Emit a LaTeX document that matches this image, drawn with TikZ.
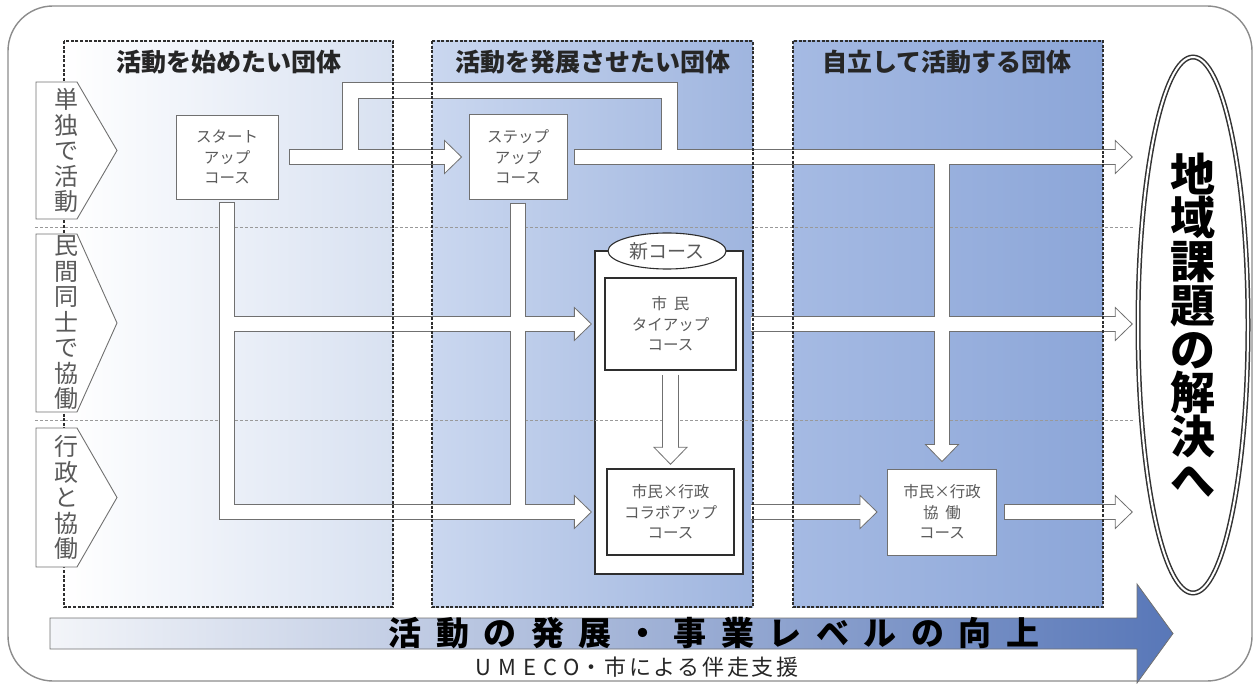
\documentclass[tikz,border=0pt]{standalone}
\usepackage{fontspec}
\setmainfont{Noto Sans CJK JP}
\usetikzlibrary{calc,shapes.geometric}

\definecolor{framegray}{HTML}{8C8C8C}
\definecolor{linegray}{HTML}{707070}
\definecolor{textgray}{HTML}{5A5A5A}
\definecolor{darkline}{HTML}{2E2E2E}
\definecolor{colA}{HTML}{D8E1F1}
\definecolor{colBl}{HTML}{CAD7EF}
\definecolor{colBr}{HTML}{9FB5DF}
\definecolor{colCl}{HTML}{A5BAE3}
\definecolor{colCr}{HTML}{8CA6D8}
\definecolor{barl}{HTML}{F3F5F9}
\definecolor{barr}{HTML}{5877B8}

\tikzset{
  bhead/.pic={
    \filldraw[fill=white,draw=linegray,line width=0.8pt] (-17,-16.5) -- (0,0) -- (-17,16.5) -- cycle;
    \fill[white] (-18.6,-7.3) rectangle (-16.2,7.3);
  }
}

% every white block arrow shaft, drawn once as outline and once as fill
\newcommand{\allshafts}[1]{%
  \draw[#1,tohead] ($(start.east)+(11,0)$) -- (tstep);
  \draw[#1] (loopa) |- (loopb) -- (loopb |- step.east);
  \draw[#1,tohead] ($(step.east)+(7,0)$) -- (tgoala);
  \draw[#1,tohead] ($(start.south)+(0,3)$) |- (tcollab);
  \draw[#1,tohead] (start.south |- tie.west) -- (ttie);
  \draw[#1] ($(step.south)+(0,3)$) -- (step.south |- tcollab);
  \draw[#1,tohead] ($(tie.south)+(0,4)$) -- (tdowna);
  \draw[#1,tohead] ($(newc.east |- tie.east)+(7,0)$) -- (tgoalb);
  \draw[#1,tohead] (kyodo.north |- step.east) -- (tdownb);
  \draw[#1,tohead] ($(newc.east |- collab.east)+(7,0)$) -- (tkyodo);
  \draw[#1,tohead] ($(kyodo.east)+(7,0)$) -- (tgoalc);
}

\begin{document}
\begin{tikzpicture}[x=1pt,y=-1pt,
  frame/.style={draw=framegray,line width=1.4pt,rounded corners=45pt},
  colborder/.style={draw=darkline,line width=1.2pt,dash pattern=on 3pt off 1.6pt},
  rowline/.style={draw=gray!80,line width=0.9pt,dash pattern=on 3pt off 2pt},
  header/.style={font=\fontsize{25}{28}\selectfont\bfseries,text=black!85},
  rowtag/.style={draw=linegray,fill=white,line width=0.9pt},
  rowtext/.style={font=\fontsize{24}{25.5}\selectfont,text=textgray,align=center},
  course/.style={draw=linegray,fill=white,line width=0.9pt,align=center,text=textgray,
    font=\fontsize{15.5}{20.5}\selectfont,inner sep=0pt},
  goalshape/.style={ellipse,draw=black!80,double=white,double distance=2pt,line width=1.5pt,
    fill=white,minimum width=110pt,minimum height=536pt,inner sep=0pt,align=center,
    font=\fontsize{45}{43.7}\selectfont\bfseries},
  shaftout/.style={draw=linegray,line width=16.4pt},
  shaftin/.style={draw=white,line width=14.8pt,shorten <=0.8pt},
  tohead/.style={shorten >=16.6pt},
]
  \useasboundingbox (0,0) rectangle (1258,684);
  \draw[frame] (8,6) rectangle (1252,681);

  \shade[left color=white,right color=colA] (64,41) rectangle (393,607);
  \shade[left color=colBl,right color=colBr] (432,41) rectangle (753,607);
  \shade[left color=colCl,right color=colCr] (793,41) rectangle (1103,607);

  \node[header] (hdra) at (229,62) {活動を始めたい団体};
  \node[header] (hdrb) at (592.5,62) {活動を発展させたい団体};
  \node[header] (hdrc) at (947,62) {自立して活動する団体};

  \node[course,minimum width=102pt,minimum height=84pt] (start) at (227,157) {スタート\\アップ\\コース};
  \node[course,minimum width=98pt,minimum height=85pt] (step) at (518,157) {ステップ\\アップ\\コース};

  \node[draw=darkline,fill=white,line width=1.3pt,minimum width=148pt,minimum height=323pt,
    inner sep=0pt] (newc) at (669,412.5) {};
  \node[ellipse,draw=darkline,fill=white,line width=1.1pt,minimum width=118pt,minimum height=36pt,
    inner sep=0pt,font=\fontsize{19}{20}\selectfont,text=textgray] (newtag) at (667,251) {新コース};
  \node[course,draw=darkline,line width=1.4pt,minimum width=131pt,minimum height=92pt] (tie)
    at (670.5,324) {市\ \ 民\\タイアップ\\コース};
  \node[course,draw=darkline,line width=1.4pt,minimum width=127pt,minimum height=86pt] (collab)
    at (670.5,512) {市民×行政\\コラボアップ\\コース};
  \node[course,minimum width=109pt,minimum height=86pt] (kyodo) at (942,512) {市民×行政\\協\ \ 働\\コース};

  \node[goalshape] (goal) at (1193,325) {地\\域\\課\\題\\の\\解\\決\\へ};

  \draw[rowline] (35,227) -- (1133,227);
  \draw[rowline] (35,420) -- (1133,420);

  \coordinate (tstep) at ($(step.west)+(-7,0)$);
  \coordinate (tgoala) at ($(goal.west |- step.east)+(-5,0)$);
  \coordinate (ttie) at ($(newc.west |- tie.west)+(-3,0)$);
  \coordinate (tgoalb) at ($(goal.west |- tie.east)+(-5,0)$);
  \coordinate (tcollab) at ($(newc.west |- collab.west)+(-3,0)$);
  \coordinate (tkyodo) at ($(kyodo.west)+(-10,0)$);
  \coordinate (tgoalc) at ($(goal.west |- kyodo.east)+(-5,0)$);
  \coordinate (tdowna) at ($(collab.north)+(0,-4)$);
  \coordinate (tdownb) at ($(kyodo.north)+(0,-7)$);
  \coordinate (loopa) at (350.5,157);
  \coordinate (loopb) at (669.5,90.5);

  \allshafts{shaftout}
  \allshafts{shaftin}
  \foreach \tip/\rot in {tstep/0,tgoala/0,ttie/0,tgoalb/0,tcollab/0,tkyodo/0,tgoalc/0,tdowna/-90,tdownb/-90}
    \pic[rotate=\rot] at (\tip) {bhead};

  \foreach \xl/\xr in {64/393,432/753,793/1103}
    \draw[colborder] (\xl,41) rectangle (\xr,607);

  \foreach \ya/\yb in {82/219,234/412,428/567}
    \draw[rowtag] (36,\ya) -- (77,\ya) -- (117,{(\ya+\yb)/2}) -- (77,\yb) -- (36,\yb) -- cycle;
  \node[rowtext] (rowa) at (66,150.5) {単\\独\\で\\活\\動};
  \node[rowtext] (rowb) at (66,323) {民\\間\\同\\士\\で\\協\\働};
  \node[rowtext] (rowc) at (66,497.5) {行\\政\\と\\協\\働};

  \shadedraw[draw=linegray,line width=0.8pt,left color=barl,right color=barr]
    (50,618) -- (1137,618) -- (1137,584) -- (1173,633.5) -- (1137,683) -- (1137,649) -- (50,649) -- cycle;
  \node[font=\fontsize{33}{36}\selectfont\bfseries] (level) at (714,633)
    {\addfontfeature{LetterSpace=44}活動の発展・事業レベルの向上};
  \node[font=\fontsize{22}{24}\selectfont,text=black!85] (umeco) at (637,667)
    {\addfontfeature{LetterSpace=12}{\addfontfeature{LetterSpace=32}UMECO}・市による伴走支援};
\end{tikzpicture}
\end{document}
